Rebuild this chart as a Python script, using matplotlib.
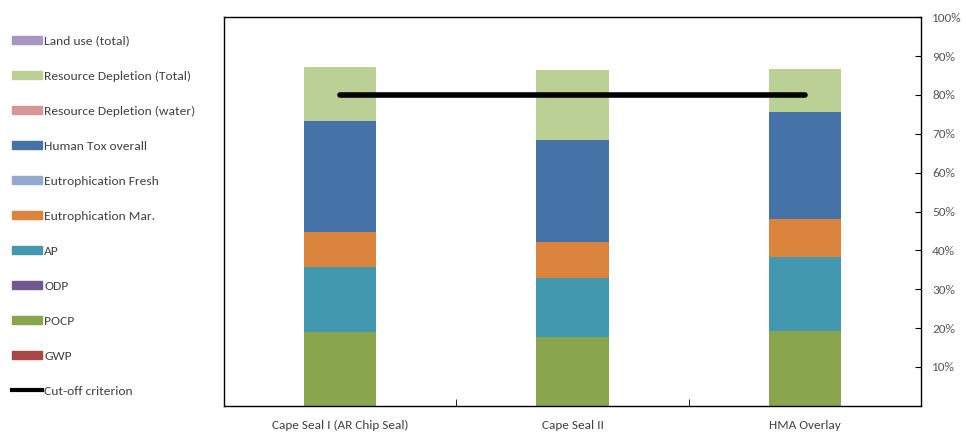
import matplotlib.pyplot as plt
import matplotlib.patches as mpatches
from matplotlib.lines import Line2D
import numpy as np

plt.rcParams['font.family'] = ['Carlito', 'Roboto Condensed', 'DejaVu Sans']

alternatives = ['Cape Seal I (AR Chip Seal)', 'Cape Seal II', 'HMA Overlay']

# share of each impact category (%), stacked bottom to top
gwp = [0.0, 0.0, 0.0]
pocp = [18.95, 17.8, 19.3]
odp = [0.0, 0.0, 0.0]
ap = [16.65, 15.2, 18.9]
eutro_mar = [9.2, 9.2, 9.8]
eutro_fresh = [0.0, 0.0, 0.0]
human_tox = [28.4, 26.2, 27.7]
res_dep_water = [0.0, 0.0, 0.0]
res_dep_total = [13.9, 18.0, 11.1]
land_use = [0.0, 0.0, 0.0]
cutoff = [80, 80, 80]

series = [
    ('GWP', gwp, '#AA4643'),
    ('POCP', pocp, '#89A54E'),
    ('ODP', odp, '#71588F'),
    ('AP', ap, '#4198AF'),
    ('Eutrophication Mar.', eutro_mar, '#DB843D'),
    ('Eutrophication Fresh', eutro_fresh, '#93A9CF'),
    ('Human Tox overall', human_tox, '#4572A7'),
    ('Resource Depletion (water)', res_dep_water, '#D99694'),
    ('Resource Depletion (Total)', res_dep_total, '#BBD095'),
    ('Land use (total)', land_use, '#A597C1'),
]

fig = plt.figure(figsize=(9.66, 4.37), dpi=100)
ax = fig.add_axes([0.2319, 0.0716, 0.9534 - 0.2319, 0.9604 - 0.0716])

x = np.arange(len(alternatives))
bottom = np.zeros(len(alternatives))
handles = []
for name, vals, col in series:
    v = np.array(vals) / 100.0
    ax.bar(x, v, 0.31, bottom=bottom, color=col, linewidth=0)
    bottom += v
    handles.append(mpatches.Patch(color=col, label=name))
handles = handles[::-1]

ax.plot(x, np.array(cutoff) / 100.0, color='black', lw=4, solid_capstyle='round')
handles.append(Line2D([], [], color='black', lw=3, label='Cut-off criterion'))

ax.set_xlim(-0.5, 2.5)
ax.set_ylim(0, 1.0)

ax.yaxis.tick_right()
ax.set_yticks(np.arange(0.1, 1.01, 0.1))
ax.set_yticklabels(['%d%%' % round(t * 100) for t in np.arange(0.1, 1.01, 0.1)])
ax.tick_params(axis='y', direction='in', length=4, color='black', labelsize=9.5,
               labelcolor='#595959', pad=8)

ax.set_xticks(x)
ax.set_xticklabels(alternatives)
ax.set_xticks([0.5, 1.5], minor=True)
ax.tick_params(axis='x', which='major', length=0, labelsize=9.5, labelcolor='#404040', pad=10)
ax.tick_params(axis='x', which='minor', direction='in', length=5, color='black')

for s in ax.spines.values():
    s.set_linewidth(1.0)
    s.set_color('black')

fig.legend(handles=handles, loc='upper left', bbox_to_anchor=(0.007, 0.931),
           frameon=False, fontsize=9.7, handlelength=2.25, handleheight=0.6,
           handletextpad=0.12, labelspacing=1.78, borderaxespad=0,
           labelcolor='#404040')

fig.savefig('out.png', dpi=100)
